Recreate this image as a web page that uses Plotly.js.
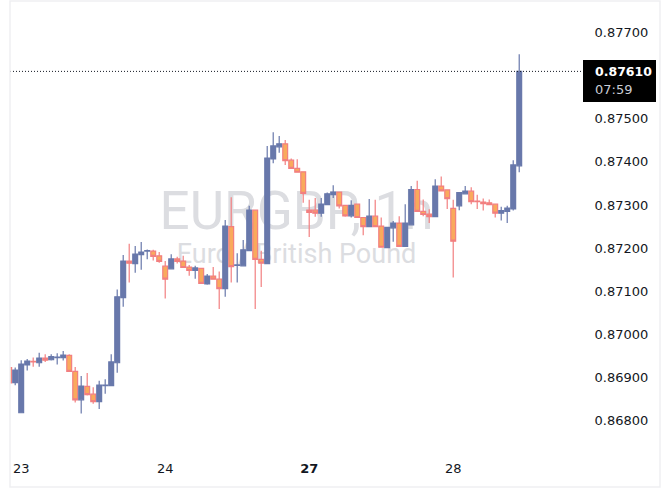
<!DOCTYPE html>
<html>
<head>
<meta charset="utf-8">
<script src="https://cdn.plot.ly/plotly-3.0.1.min.js"></script>
<style>html,body{margin:0;padding:0;background:#fff;}#chart{width:670px;height:504px;}</style>
</head>
<body>
<div id="chart"></div>
<script>
// Hourly EURGBP candles (index 0 = first visible hour)
const openP = [0.86923,0.86888,0.86818,0.86929,0.86937,0.86934,0.86945,0.86941,0.86946,0.86946,
0.86951,0.86914,0.86848,0.86879,0.86861,0.86844,0.86881,0.86881,0.86934,0.87085,
0.87170,0.87164,0.87185,0.87193,0.87193,0.87182,0.87158,0.87152,0.87175,0.87170,
0.87156,0.87148,0.87153,0.87117,0.87135,0.87128,0.87106,0.87250,0.87160,0.87159,
0.87194,0.87288,0.87174,0.87164,0.87407,0.87435,0.87442,0.87404,0.87385,0.87377,
0.87288,0.87288,0.87281,0.87301,0.87324,0.87330,0.87299,0.87275,0.87302,0.87271,
0.87250,0.87274,0.87251,0.87201,0.87247,0.87258,0.87204,0.87254,0.87336,0.87285,
0.87279,0.87273,0.87344,0.87335,0.87292,0.87298,0.87326,0.87332,0.87309,0.87307,
0.87305,0.87302,0.87281,0.87285,0.87291,0.87391];
const highP = [0.86926,0.86923,0.86940,0.86943,0.86946,0.86957,0.86954,0.86954,0.86956,0.86961,
0.86954,0.86924,0.86903,0.86910,0.86877,0.86892,0.86896,0.86954,0.87104,0.87184,
0.87210,0.87205,0.87214,0.87197,0.87196,0.87191,0.87170,0.87186,0.87180,0.87182,
0.87161,0.87159,0.87154,0.87140,0.87156,0.87146,0.87265,0.87318,0.87188,0.87219,
0.87298,0.87289,0.87194,0.87437,0.87469,0.87460,0.87451,0.87408,0.87406,0.87378,
0.87312,0.87316,0.87316,0.87329,0.87346,0.87331,0.87300,0.87311,0.87303,0.87272,
0.87314,0.87312,0.87271,0.87249,0.87263,0.87274,0.87302,0.87344,0.87356,0.87313,
0.87290,0.87360,0.87366,0.87336,0.87312,0.87330,0.87344,0.87341,0.87324,0.87315,
0.87313,0.87303,0.87296,0.87298,0.87404,0.87650];
const lowP = [0.86882,0.86882,0.86817,0.86916,0.86925,0.86925,0.86936,0.86939,0.86930,0.86939,
0.86913,0.86842,0.86816,0.86858,0.86839,0.86827,0.86862,0.86880,0.86911,0.87064,
0.87120,0.87143,0.87150,0.87174,0.87171,0.87166,0.87083,0.87151,0.87164,0.87154,
0.87136,0.87129,0.87117,0.87115,0.87127,0.87059,0.87087,0.87120,0.87120,0.87158,
0.87193,0.87059,0.87110,0.87163,0.87397,0.87421,0.87393,0.87384,0.87375,0.87305,
0.87226,0.87273,0.87273,0.87300,0.87316,0.87292,0.87273,0.87271,0.87270,0.87230,
0.87249,0.87249,0.87201,0.87200,0.87215,0.87203,0.87203,0.87253,0.87284,0.87274,
0.87258,0.87272,0.87332,0.87291,0.87132,0.87288,0.87325,0.87302,0.87291,0.87287,
0.87300,0.87271,0.87264,0.87258,0.87287,0.87376];
const closeP = [0.86887,0.86917,0.86931,0.86938,0.86936,0.86945,0.86940,0.86948,0.86947,0.86952,
0.86914,0.86848,0.86880,0.86860,0.86844,0.86882,0.86882,0.86936,0.87087,0.87170,
0.87165,0.87186,0.87191,0.87194,0.87181,0.87169,0.87128,0.87175,0.87169,0.87155,
0.87148,0.87154,0.87118,0.87135,0.87128,0.87106,0.87251,0.87157,0.87161,0.87196,
0.87288,0.87174,0.87165,0.87409,0.87437,0.87442,0.87403,0.87385,0.87376,0.87327,
0.87283,0.87281,0.87302,0.87326,0.87330,0.87298,0.87275,0.87299,0.87271,0.87250,
0.87274,0.87250,0.87202,0.87248,0.87258,0.87204,0.87258,0.87336,0.87285,0.87278,
0.87273,0.87344,0.87333,0.87315,0.87216,0.87329,0.87332,0.87308,0.87308,0.87303,
0.87301,0.87281,0.87287,0.87293,0.87393,0.87610];

// x-axis day labels: candle index of each day start
const dayTickIndex = [2, 26, 50, 74];
const dayTickText = ['23', '24', '<b>27</b>', '28'];

// price-axis ticks
const priceTicks = [0.868, 0.869, 0.870, 0.871, 0.872, 0.873, 0.874, 0.875, 0.877];
const lastPrice = 0.87610;
const lastPriceText = '0.87610';
const countdownText = '07:59';
const symbolText = 'EURGBP, 1h';
const descText = 'Euro / British Pound';

const xIdx = openP.map((_, i) => i);

const blue = '#6878ab';
const orangeFill = '#f9aa5c';
const orangeLine = '#f27f80';
const FONT = 'DejaVu Sans, sans-serif';

const trace = {
  type: 'candlestick',
  x: xIdx, open: openP, high: highP, low: lowP, close: closeP,
  increasing: {line: {color: blue, width: 1.2}, fillcolor: blue},
  decreasing: {line: {color: orangeLine, width: 1.2}, fillcolor: orangeFill},
  whiskerwidth: 0,
  hoverinfo: 'skip',
  showlegend: false
};

const plotW = 573, plotH = 450;

const layout = {
  width: 670, height: 504,
  margin: {l: 10, r: 87, t: 0, b: 54},
  paper_bgcolor: '#ffffff', plot_bgcolor: '#ffffff',
  showlegend: false,
  boxgap: 0.15, boxgroupgap: 0.05,
  xaxis: {
    type: 'linear',
    range: [0.133, 95.63],
    rangeslider: {visible: false},
    tickmode: 'array', tickvals: dayTickIndex, ticktext: dayTickText,
    showgrid: false, zeroline: false, showline: false,
    ticks: 'outside', ticklen: 6, tickcolor: 'rgba(0,0,0,0)',
    tickfont: {family: FONT, size: 13, color: '#131722'},
    fixedrange: true
  },
  yaxis: {
    side: 'right',
    range: [0.867316, 0.877756],
    tickmode: 'array', tickvals: priceTicks,
    ticktext: priceTicks.map(v => v.toFixed(5)),
    showgrid: false, zeroline: false, showline: false,
    ticks: 'outside', ticklen: 8, tickcolor: 'rgba(0,0,0,0)',
    tickfont: {family: FONT, size: 13, color: '#131722'},
    fixedrange: true
  },
  shapes: [
    // watermark (behind candles)
    {type: 'rect', xref: 'paper', yref: 'paper', layer: 'below',
     x0: 0.2, x1: 0.8, y0: 0.50, y1: 0.58,
     line: {width: 0}, fillcolor: 'rgba(0,0,0,0)',
     label: {text: symbolText, textposition: 'middle center',
             font: {family: 'Roboto, sans-serif', size: 53, color: '#dcdde1'}}},
    {type: 'rect', xref: 'paper', yref: 'paper', layer: 'below',
     x0: 0.2, x1: 0.8, y0: 0.42, y1: 0.46,
     line: {width: 0}, fillcolor: 'rgba(0,0,0,0)',
     label: {text: descText, textposition: 'middle center',
             font: {family: 'Roboto, sans-serif', size: 27, color: '#dcdde1'}}},
    // last price dotted line
    {type: 'line', xref: 'paper', x0: 0, x1: 1, yref: 'y', y0: lastPrice, y1: lastPrice,
     line: {color: '#131722', width: 1, dash: '1px,2px'}, layer: 'above'},
    // last price label box
    {type: 'rect', xref: 'paper', yref: 'paper', layer: 'above',
     x0: 1, x1: 1 + 73 / plotW, y0: (plotH - 102) / plotH, y1: (plotH - 60) / plotH,
     line: {width: 0}, fillcolor: '#000000'},
    // outer frame
    {type: 'rect', xref: 'paper', yref: 'paper', layer: 'above',
     x0: 0, x1: 650 / plotW, y0: (plotH - 487) / plotH, y1: (plotH - 1) / plotH,
     line: {color: '#eff0f2', width: 1.5}, fillcolor: 'rgba(0,0,0,0)'}
  ],
  annotations: [
    {xref: 'paper', yref: 'paper', x: 1 + 10 / plotW, xanchor: 'left',
     y: (plotH - 71.7) / plotH, yanchor: 'middle', showarrow: false,
     text: '<b>' + lastPriceText + '</b>',
     font: {family: FONT, size: 12.5, color: '#ffffff'}},
    {xref: 'paper', yref: 'paper', x: 1 + 10 / plotW, xanchor: 'left',
     y: (plotH - 90) / plotH, yanchor: 'middle', showarrow: false,
     text: countdownText,
     font: {family: FONT, size: 13, color: '#c9ccd4'}}
  ]
};

Plotly.newPlot('chart', [trace], layout, {displayModeBar: false, staticPlot: true});
</script>
</body>
</html>
